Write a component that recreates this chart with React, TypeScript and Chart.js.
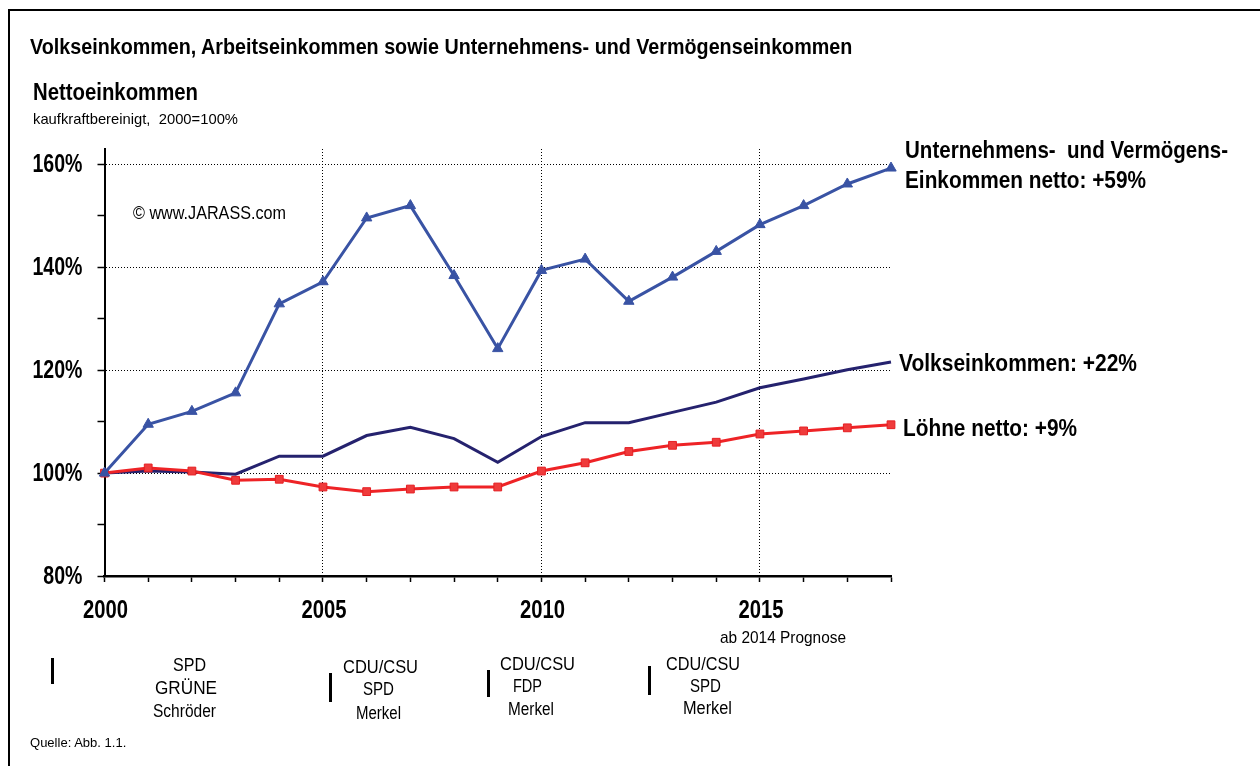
import React, { useEffect, useRef } from 'react';
import { Chart, registerables } from 'chart.js';

Chart.register(...registerables);

// ---------- data ----------
const years = ['2000', '2001', '2002', '2003', '2004', '2005', '2006', '2007', '2008', '2009',
  '2010', '2011', '2012', '2013', '2014', '2015', '2016', '2017', '2018'];
const unternehmenNetto = [100, 109.5, 112, 115.6, 132.9, 137.2, 149.6, 152, 138.4, 124.2,
  139.4, 141.6, 133.4, 138.1, 143.1, 148.3, 152, 156.2, 159.3];
const volkseinkommen = [100, 100.4, 100.2, 99.8, 103.3, 103.3, 107.3, 108.9, 106.7, 102.1,
  107.1, 109.8, 109.8, 111.8, 113.8, 116.6, 118.3, 120.1, 121.6];
const loehneNetto = [100, 101.0, 100.4, 98.6, 98.8, 97.3, 96.4, 96.9, 97.3, 97.3,
  100.4, 102.0, 104.2, 105.4, 106.0, 107.6, 108.2, 108.8, 109.4];
const yTickLabels = [80, 100, 120, 140, 160];
const xTickLabels = ['2000', '2005', '2010', '2015'];

const FONT = '"Liberation Sans", Arial, Helvetica, sans-serif';

let measureCtx: CanvasRenderingContext2D | null = null;
function fitScale(text: string, font: string, width: number): number {
  if (!measureCtx) measureCtx = document.createElement('canvas').getContext('2d');
  if (!measureCtx) return 1;
  measureCtx.font = font;
  const w = measureCtx.measureText(text).width;
  return w > 0 ? width / w : 1;
}

type TxtProps = { text: string; x?: number; cx?: number; cy: number; w: number; size: number; bold?: boolean };
function Txt({ text, x, cx, cy, w, size, bold }: TxtProps) {
  const weight = bold ? 'bold' : 'normal';
  const s = fitScale(text, `${weight} ${size}px ${FONT}`, w);
  const left = cx !== undefined ? cx - w / 2 : (x as number);
  return (
    <div
      style={{
        position: 'absolute',
        left,
        top: cy - size / 2,
        fontFamily: FONT,
        fontSize: size,
        fontWeight: weight as any,
        lineHeight: `${size}px`,
        whiteSpace: 'pre',
        transform: `scaleX(${s})`,
        transformOrigin: '0 0',
        color: '#000',
      }}
    >
      {text}
    </div>
  );
}

function Bar({ x, y1, y2 }: { x: number; y1: number; y2: number }) {
  return <div style={{ position: 'absolute', left: x - 1.5, top: y1, width: 3, height: y2 - y1, background: '#000' }} />;
}

const axisLabelPlugin = {
  id: 'axisLabels',
  afterDraw(chart: any) {
    const { ctx, scales, chartArea } = chart;
    const ys = scales.y;
    const xs = scales.x;
    ctx.save();
    ctx.fillStyle = '#000';
    ctx.font = `bold 25px ${FONT}`;
    ctx.textBaseline = 'middle';
    const sy = 50 / ctx.measureText('160%').width;
    ctx.textAlign = 'right';
    yTickLabels.forEach((v) => {
      const py = ys.getPixelForValue(v);
      ctx.save();
      ctx.translate(chartArea.left - 22, py + 1);
      ctx.scale(sy, 1);
      ctx.fillText(`${v}%`, 0, 0);
      ctx.restore();
    });
    ctx.textAlign = 'center';
    const sx = 45 / ctx.measureText('2000').width;
    xTickLabels.forEach((l) => {
      const px = xs.getPixelForValue(years.indexOf(l));
      ctx.save();
      ctx.translate(px + 1, chartArea.bottom + 35);
      ctx.scale(sx, 1);
      ctx.fillText(l, 0, 0);
      ctx.restore();
    });
    ctx.restore();
  },
};

function ChartCanvas() {
  const ref = useRef<HTMLCanvasElement | null>(null);
  useEffect(() => {
    if (!ref.current) return;
    const dash = [1, 2];
    const chart = new Chart(ref.current, {
      type: 'line',
      data: {
        labels: years,
        datasets: [
          {
            label: 'Unternehmens- und Vermögens-Einkommen netto',
            data: unternehmenNetto,
            borderColor: '#3953A4',
            backgroundColor: '#3953A4',
            borderWidth: 3,
            pointStyle: 'triangle',
            pointRadius: 6,
            pointBorderWidth: 1,
            tension: 0,
            clip: false as any,
            order: 0,
          },
          {
            label: 'Löhne netto',
            data: loehneNetto,
            borderColor: '#EE2326',
            backgroundColor: '#EF3B3B',
            pointBorderColor: '#E51E22',
            borderWidth: 3,
            pointStyle: 'rect',
            pointRadius: 5.5,
            pointBorderWidth: 1,
            tension: 0,
            clip: false as any,
            order: 1,
          },
          {
            label: 'Volkseinkommen',
            data: volkseinkommen,
            borderColor: '#25226E',
            backgroundColor: '#25226E',
            borderWidth: 3,
            pointRadius: 0,
            tension: 0,
            clip: false as any,
            order: 2,
          },
        ],
      },
      options: {
        animation: false,
        responsive: true,
        maintainAspectRatio: false,
        layout: { padding: { left: 20, top: 149, right: 369, bottom: 150 }, autoPadding: false } as any,
        plugins: { legend: { display: false }, tooltip: { enabled: false }, title: { display: false } },
        scales: {
          x: {
            type: 'category',
            offset: false,
            ticks: { display: false },
            grid: {
              color: (c: any) => (c.index > 0 && c.index % 5 === 0 ? '#000' : 'rgba(0,0,0,0)'),
              lineWidth: 1,
              tickColor: '#000',
              tickLength: 6,
              tickWidth: 1.5,
            },
            border: { display: true, color: '#000', width: 2.5, dash },
            afterFit: (s: any) => { s.height = 40; },
          },
          y: {
            min: 80,
            max: 163,
            ticks: { display: false, stepSize: 10 },
            afterBuildTicks: (s: any) => { s.ticks = s.ticks.filter((t: any) => t.value % 10 === 0); },
            grid: {
              color: (c: any) => {
                const v = c.tick ? c.tick.value : 0;
                return v > 80 && v % 20 === 0 ? '#000' : 'rgba(0,0,0,0)';
              },
              lineWidth: 1,
              tickColor: '#000',
              tickLength: 7,
              tickWidth: 1.5,
            },
            border: { display: true, color: '#000', width: 2, dash },
            afterFit: (s: any) => { s.width = 84.5; },
          },
        },
      } as any,
      plugins: [axisLabelPlugin],
    });
    return () => chart.destroy();
  }, []);
  return (
    <div style={{ position: 'absolute', left: 0, top: 0, width: 1260, height: 766 }}>
      <canvas ref={ref} />
    </div>
  );
}

export default function App() {
  return (
    <div style={{ position: 'absolute', left: 0, top: 0, width: 1260, height: 766, overflow: 'hidden', background: '#fff' }}>
      <div
        style={{
          position: 'absolute',
          left: 8,
          top: 9,
          width: 1252,
          height: 757,
          borderTop: '2px solid #000',
          borderLeft: '2px solid #000',
          boxSizing: 'border-box',
        }}
      />
      <ChartCanvas />
      <Txt text="Volkseinkommen, Arbeitseinkommen sowie Unternehmens- und Vermögenseinkommen" x={30} w={823} cy={47} size={22} bold />
      <Txt text="Nettoeinkommen" x={33} w={165} cy={92} size={24} bold />
      <Txt text="kaufkraftbereinigt,  2000=100%" x={33} w={205} cy={118} size={15} />
      <Txt text="© www.JARASS.com" x={133} w={153} cy={213} size={18} />
      <Txt text="Unternehmens-  und Vermögens-" x={905} w={323} cy={150} size={24} bold />
      <Txt text="Einkommen netto: +59%" x={905} w={241} cy={180} size={24} bold />
      <Txt text="Volkseinkommen: +22%" x={899} w={238} cy={363} size={24} bold />
      <Txt text="Löhne netto: +9%" x={903} w={174} cy={428} size={24} bold />
      <Txt text="ab 2014 Prognose" x={720} w={126} cy={637} size={17} />

      <Bar x={52} y1={658} y2={684} />
      <Txt text="SPD" cx={189} w={33} cy={665} size={18} />
      <Txt text="GRÜNE" cx={186} w={62} cy={688} size={18} />
      <Txt text="Schröder" cx={184} w={63} cy={711} size={18} />

      <Bar x={330} y1={673} y2={702} />
      <Txt text="CDU/CSU" cx={380} w={75} cy={667} size={18} />
      <Txt text="SPD" cx={378} w={31} cy={689} size={18} />
      <Txt text="Merkel" cx={378} w={45} cy={713} size={18} />

      <Bar x={488} y1={670} y2={697} />
      <Txt text="CDU/CSU" cx={537} w={75} cy={664} size={18} />
      <Txt text="FDP" cx={527} w={29} cy={686} size={18} />
      <Txt text="Merkel" cx={531} w={46} cy={709} size={18} />

      <Bar x={649} y1={666} y2={695} />
      <Txt text="CDU/CSU" cx={703} w={74} cy={664} size={18} />
      <Txt text="SPD" cx={705} w={31} cy={686} size={18} />
      <Txt text="Merkel" cx={707} w={49} cy={708} size={18} />

      <Txt text="Quelle: Abb. 1.1." x={30} w={97} cy={743} size={12} />
    </div>
  );
}
